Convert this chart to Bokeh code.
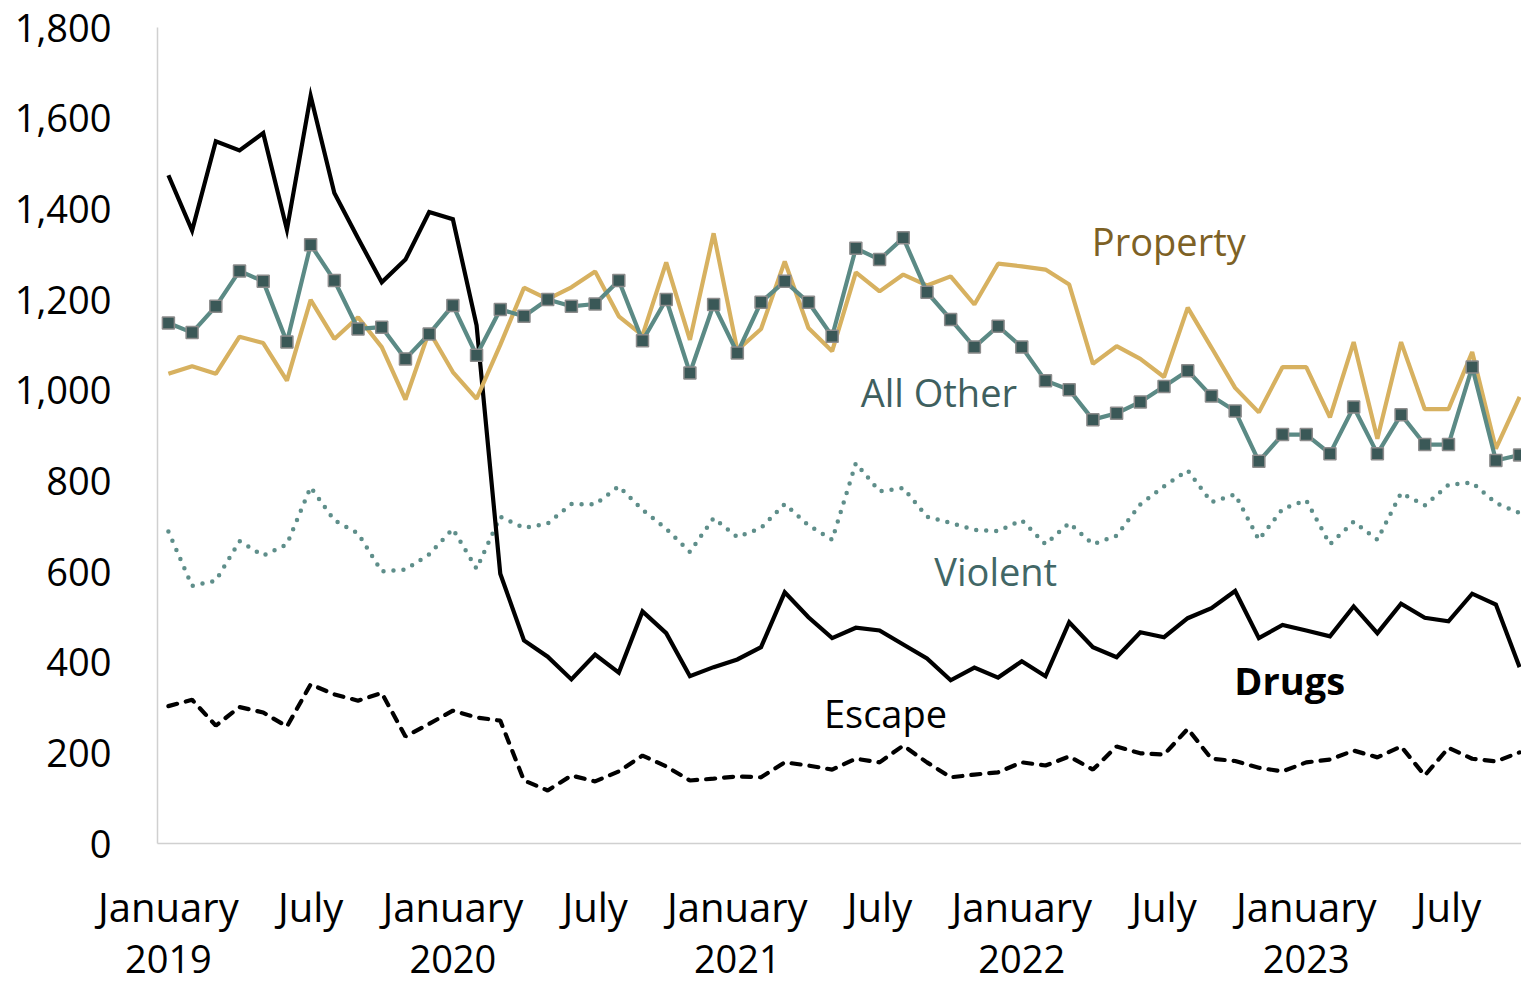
from bokeh.plotting import figure
from bokeh.models import Range1d, LinearAxis, FixedTicker, NumeralTickFormatter, ColumnDataSource
from bokeh.core.properties import value
from bokeh.embed import file_html
from bokeh.resources import INLINE

# month index 0 = January 2019 ... 57 = October 2023
months = list(range(58))

drugs = [1474, 1352, 1549, 1529, 1567, 1354, 1649, 1435, 1335, 1238, 1288, 1393, 1377, 1143, 595,
         448, 412, 362, 417, 377, 512, 464, 369, 389, 406, 433, 554, 499, 453, 476, 470, 439, 408,
         360, 388, 366, 402, 369, 488, 433, 411, 466, 455, 497, 519, 557, 453, 482, 470, 457, 523,
         464, 529, 498, 490, 551, 527, 389]
property_ = [1036, 1053, 1036, 1118, 1104, 1021, 1199, 1113, 1161, 1095, 979, 1130, 1040, 981, 1100,
             1226, 1201, 1227, 1262, 1163, 1121, 1282, 1111, 1346, 1088, 1135, 1284, 1137, 1086, 1260,
             1218, 1255, 1231, 1251, 1189, 1279, 1273, 1266, 1233, 1058, 1097, 1069, 1029, 1182, 1094,
             1005, 951, 1051, 1051, 940, 1106, 893, 1106, 958, 958, 1084, 871, 985]
all_other = [1148, 1127, 1185, 1263, 1240, 1106, 1321, 1242, 1135, 1139, 1069, 1124, 1187, 1077, 1178,
             1163, 1200, 1185, 1190, 1242, 1109, 1200, 1038, 1189, 1082, 1194, 1240, 1194, 1119,
             1313, 1288, 1336, 1216, 1156, 1095, 1141, 1095, 1021, 1001, 935, 949, 974, 1008, 1043,
             987, 954, 843, 902, 902, 860, 963, 860, 946, 880, 880, 1051, 845, 857]
violent = [688, 568, 580, 667, 635, 660, 786, 713, 684, 600, 604, 638, 694, 606, 721,
           696, 706, 749, 748, 788, 736, 694, 643, 718, 676, 696, 749, 702, 670, 839, 777, 784, 721,
           707, 692, 689, 713, 660, 707, 660, 679, 748, 788, 823, 753, 770, 670, 738, 757, 660, 710,
           670, 773, 746, 791, 796, 751, 729]
escape = [303, 317, 260, 301, 289, 258, 351, 329, 315, 332, 236, 264, 293, 278, 271,
          139, 117, 150, 137, 159, 194, 170, 139, 143, 148, 146, 179, 172, 163, 187, 179, 216, 179,
          146, 152, 157, 179, 172, 192, 163, 214, 199, 196, 253, 187, 182, 167, 159, 179, 185, 205,
          190, 214, 150, 211, 187, 181, 201]

tick_months = [0, 6, 12, 18, 24, 30, 36, 42, 48, 54]
month_labels = ["January", "July"] * 5
year_labels = ["2019", "", "2020", "", "2021", "", "2022", "", "2023", ""]
y_ticks = [0, 200, 400, 600, 800, 1000, 1200, 1400, 1600, 1800]

series_names = ["Property", "All Other", "Violent", "Drugs", "Escape"]
name_x = [42.2, 32.5, 34.9, 47.3, 30.25]
name_y = [1330, 995, 602, 360, 287]
name_colors = ["#7D6125", "#3F5F5E", "#426766", "#000000", "#000000"]
name_styles = ["normal", "normal", "normal", "bold", "normal"]

FONT = "Open Sans"
FS = "38px"
XFS = "40px"

p = figure(width=1521, height=983, output_backend="svg", toolbar_location=None,
           x_range=Range1d(-0.46, 57.08), y_range=Range1d(0, 1800),
           x_axis_location=None, y_axis_location=None,
           min_border_left=157, min_border_right=0, min_border_top=27, min_border_bottom=140)
p.outline_line_color = None
p.xgrid.visible = False
p.ygrid.visible = False
p.background_fill_color = "white"
p.border_fill_color = "white"

yaxis = LinearAxis(ticker=FixedTicker(ticks=y_ticks), formatter=NumeralTickFormatter(format="0,0"))
yaxis.axis_line_color = "#D0D0D0"
yaxis.axis_line_width = 1.5
yaxis.major_tick_line_color = None
yaxis.minor_tick_line_color = None
yaxis.major_tick_out = 0
yaxis.major_label_standoff = 46
yaxis.major_label_text_font = FONT
yaxis.major_label_text_font_size = FS
yaxis.major_label_text_color = "#000000"
p.add_layout(yaxis, "left")

xaxis1 = LinearAxis(ticker=FixedTicker(ticks=tick_months),
                    major_label_overrides=dict(zip(tick_months, month_labels)))
xaxis1.axis_line_color = "#D0D0D0"
xaxis1.axis_line_width = 1.5
xaxis1.major_tick_line_color = None
xaxis1.minor_tick_line_color = None
xaxis1.major_tick_out = 0
xaxis1.major_label_standoff = 35
xaxis1.major_label_text_font = FONT
xaxis1.major_label_text_font_size = XFS
xaxis1.major_label_text_color = "#000000"
p.add_layout(xaxis1, "below")

xaxis2 = LinearAxis(ticker=FixedTicker(ticks=tick_months),
                    major_label_overrides=dict(zip(tick_months, year_labels)))
xaxis2.axis_line_color = None
xaxis2.major_tick_line_color = None
xaxis2.minor_tick_line_color = None
xaxis2.major_tick_out = 0
xaxis2.major_label_standoff = 8
xaxis2.major_label_text_font = FONT
xaxis2.major_label_text_font_size = FS
xaxis2.major_label_text_color = "#000000"
p.add_layout(xaxis2, "below")

# Escape (dashed)
p.line(months, escape, line_color="#000000", line_width=4.2, line_dash="9 9", line_cap="round")
# Violent (dotted)
p.line(months, violent, line_color="#5E8E8A", line_width=4.5, line_dash="0 10", line_cap="round")
# Drugs
p.line(months, drugs, line_color="#000000", line_width=4.2, line_join="miter")
# Property
p.line(months, property_, line_color="#D7B160", line_width=4.2)
# All Other
p.line(months, all_other, line_color="#5B8A85", line_width=4.2)
p.scatter(months, all_other, marker="square", size=12, fill_color="#3A5857",
          line_color="#8C8C8C", line_width=1.5)

labels = ColumnDataSource(dict(x=name_x, y=name_y, text=series_names, color=name_colors, style=name_styles))
p.text(x="x", y="y", text="text", source=labels, text_color="color", text_font_style="style",
       text_font=value(FONT), text_font_size=FS, text_align="center", text_baseline="middle")

open("out.html", "w").write(file_html(p, INLINE))
